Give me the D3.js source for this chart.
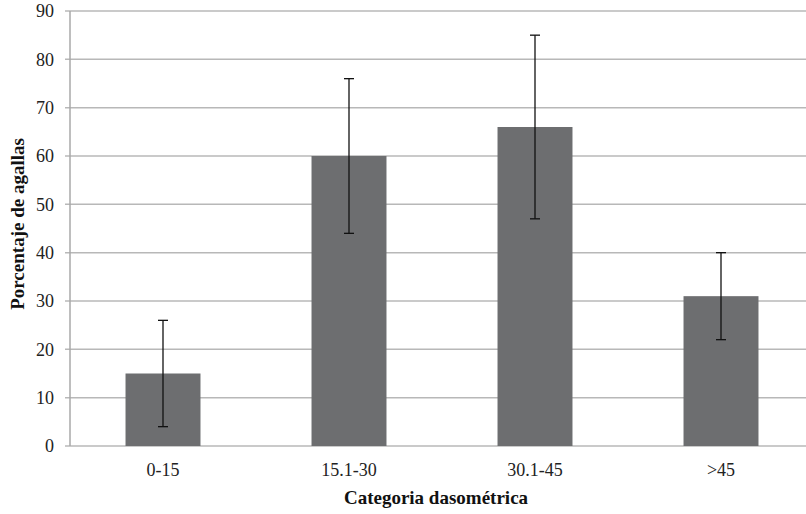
<!DOCTYPE html>
<html>
<head>
<meta charset="utf-8">
<script src="https://cdn.jsdelivr.net/npm/d3@7/dist/d3.min.js"></script>
<style>
  html, body { margin: 0; padding: 0; background: #fff; }
  svg { display: block; font-family: "Liberation Serif", "Times New Roman", serif; }
</style>
</head>
<body>
<svg id="chart" width="806" height="514"></svg>
<script>
// Gall percentage by diameter class, with error bars
const categories = ["0-15", "15.1-30", "30.1-45", ">45"];
const values = [15, 60, 66, 31];
const errLow = [4, 44, 47, 22];
const errHigh = [26, 76, 85, 40];
const yTicks = [0, 10, 20, 30, 40, 50, 60, 70, 80, 90];

const svg = d3.select("#chart");
const margin = { left: 70, top: 11, right: -8, bottom: 68 };
const width = 806, height = 514;

const x = d3.scaleBand()
  .domain(categories)
  .range([margin.left, width - margin.right])
  .paddingInner(0.597)
  .paddingOuter(0.2985);

const y = d3.scaleLinear()
  .domain([0, 90])
  .range([height - margin.bottom, margin.top]);

// Horizontal gridlines
svg.append("g")
  .selectAll("line")
  .data(yTicks)
  .join("line")
  .attr("x1", margin.left - 5)
  .attr("x2", width)
  .attr("y1", d => y(d))
  .attr("y2", d => y(d))
  .attr("stroke", "#b8b8b8")
  .attr("stroke-width", 1.5);

// Y axis line
svg.append("line")
  .attr("x1", margin.left).attr("x2", margin.left)
  .attr("y1", y(90)).attr("y2", y(0))
  .attr("stroke", "#a8a8a8")
  .attr("stroke-width", 1.5);

// Y tick labels
svg.append("g")
  .selectAll("text")
  .data(yTicks)
  .join("text")
  .attr("x", margin.left - 16)
  .attr("y", d => y(d))
  .attr("dy", "0.35em")
  .attr("text-anchor", "end")
  .attr("font-size", 18)
  .attr("fill", "#222")
  .text(d => d);

// Bars
svg.append("g")
  .selectAll("rect")
  .data(categories)
  .join("rect")
  .attr("x", d => x(d))
  .attr("width", x.bandwidth())
  .attr("y", (d, i) => y(values[i]))
  .attr("height", (d, i) => y(0) - y(values[i]))
  .attr("fill", "#6d6e70");

// Error bars
const eb = svg.append("g").attr("stroke", "#111").attr("stroke-width", 1.3);
categories.forEach((c, i) => {
  const cx = x(c) + x.bandwidth() / 2;
  eb.append("line").attr("x1", cx).attr("x2", cx)
    .attr("y1", y(errLow[i])).attr("y2", y(errHigh[i]));
  eb.append("line").attr("x1", cx - 5).attr("x2", cx + 5)
    .attr("y1", y(errHigh[i])).attr("y2", y(errHigh[i]));
  eb.append("line").attr("x1", cx - 5).attr("x2", cx + 5)
    .attr("y1", y(errLow[i])).attr("y2", y(errLow[i]));
});

// X tick labels
svg.append("g")
  .selectAll("text")
  .data(categories)
  .join("text")
  .attr("x", d => x(d) + x.bandwidth() / 2)
  .attr("y", 476)
  .attr("text-anchor", "middle")
  .attr("font-size", 18)
  .attr("fill", "#222")
  .text(d => d);

// Axis titles
svg.append("text")
  .attr("x", 436)
  .attr("y", 504)
  .attr("text-anchor", "middle")
  .attr("font-size", 19)
  .attr("font-weight", "bold")
  .attr("fill", "#111")
  .text("Categoria dasométrica");

svg.append("text")
  .attr("transform", "translate(24,224) rotate(-90)")
  .attr("text-anchor", "middle")
  .attr("font-size", 19)
  .attr("font-weight", "bold")
  .attr("fill", "#111")
  .text("Porcentaje de agallas");
</script>
</body>
</html>
